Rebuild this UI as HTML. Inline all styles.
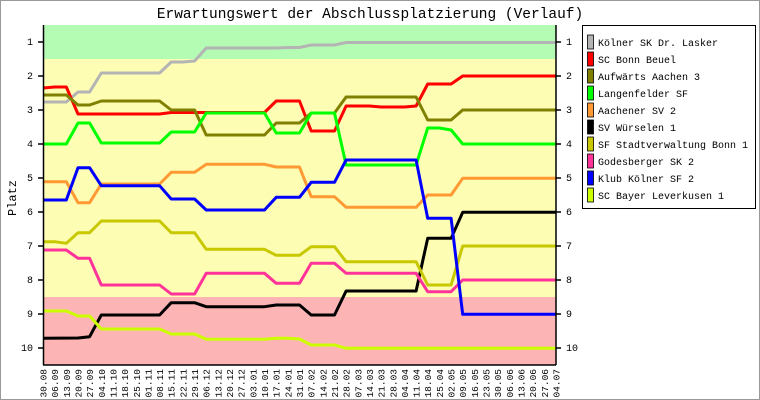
<!DOCTYPE html>
<html><head><meta charset="utf-8"><style>
html,body{margin:0;padding:0;background:#fff}
svg{display:block}
text{font-family:"Liberation Mono","DejaVu Sans Mono",monospace;fill:#000}
</style></head><body>
<svg width="760" height="400" viewBox="0 0 760 400" xmlns="http://www.w3.org/2000/svg">
<rect x="0.5" y="0.5" width="759" height="399" fill="#fff" stroke="#999" stroke-width="1"/>
<text x="370" y="18" font-size="14.5" text-anchor="middle">Erwartungswert der Abschlussplatzierung (Verlauf)</text>
<rect x="43" y="25" width="513" height="34" fill="#b4fcb4"/>
<rect x="43" y="59" width="513" height="238" fill="#fdfdb4"/>
<rect x="43" y="297" width="513" height="68" fill="#fdb4b4"/>
<g fill="none" stroke-width="3" stroke-linejoin="round">
<polyline stroke="#b4b4b4" points="43,102 66.3,102 78,92 89.6,92 101.3,73 159.6,73 171.2,62 182.9,62 194.6,61 206.2,48 276.2,48 287.8,47.5 299.5,47.5 311.2,45 334.5,45 346.1,42.5 556,42.5"/>
<polyline stroke="#ff0000" points="43,88 54.7,87 66.3,87 78,114 159.6,114 171.2,112.5 264.5,112.5 276.2,101 299.5,101 311.2,131 334.5,131 346.1,106 369.5,106 381.1,107 404.4,107 416.1,106 427.7,84 451.1,84 462.7,76 556,76"/>
<polyline stroke="#808000" points="43,95 66.3,95 78,105 89.6,105 101.3,101 159.6,101 171.2,110 194.6,110 206.2,135 264.5,135 276.2,123 299.5,123 311.2,113 334.5,113 346.1,97 416.1,97 427.7,120 451.1,120 462.7,110 556,110"/>
<polyline stroke="#00ff00" points="43,144 66.3,144 78,123 89.6,123 101.3,143 159.6,143 171.2,132 194.6,132 206.2,113 264.5,113 276.2,133 299.5,133 311.2,113 334.5,113 346.1,165 416.1,165 427.7,128 439.4,128 451.1,130 462.7,144 556,144"/>
<polyline stroke="#ff9933" points="43,181.7 66.3,181.7 78,202.7 89.6,202.7 101.3,184 159.6,184 171.2,172.3 194.6,172.3 206.2,164.3 264.5,164.3 276.2,167 299.5,167 311.2,196.7 334.5,196.7 346.1,207.3 416.1,207.3 427.7,195 451.1,195 462.7,178.3 556,178.3"/>
<polyline stroke="#000000" points="43,338.3 78,338 89.6,336.7 101.3,315 159.6,315 171.2,302.7 194.6,302.7 206.2,306.7 264.5,306.7 276.2,305 299.5,305 311.2,315 334.5,315 346.1,291 416.1,291 427.7,238.3 451.1,238.3 462.7,212.3 556,212.3"/>
<polyline stroke="#c8c800" points="43,241.7 54.7,241.7 66.3,243.3 78,232.7 89.6,232.7 101.3,221 159.6,221 171.2,232.7 194.6,232.7 206.2,249.3 264.5,249.3 276.2,255.3 299.5,255.3 311.2,246.7 334.5,246.7 346.1,261.7 416.1,261.7 427.7,285 451.1,285 462.7,246 556,246"/>
<polyline stroke="#ff3399" points="43,250 66.3,250 78,258.3 89.6,258.3 101.3,285 159.6,285 171.2,294 194.6,294 206.2,273.3 264.5,273.3 276.2,283.3 299.5,283.3 311.2,263.3 334.5,263.3 346.1,273.3 416.1,273.3 427.7,291.7 451.1,291.7 462.7,280 556,280"/>
<polyline stroke="#0000ff" points="43,200 66.3,200 78,167.7 89.6,167.7 101.3,185.7 159.6,185.7 171.2,199 194.6,199 206.2,210 264.5,210 276.2,197.3 299.5,197.3 311.2,182.3 334.5,182.3 346.1,160 416.1,160 427.7,218.3 451.1,218.3 462.7,314.3 556,314.3"/>
<polyline stroke="#ccff00" points="43,311 66.3,311 78,316 89.6,316 101.3,329 159.6,329 171.2,334 194.6,334 206.2,339.3 264.5,339.3 276.2,338.3 287.8,338.3 299.5,339 311.2,345 334.5,345 346.1,348.3 556,348.3"/>
</g>
<g stroke="#000" stroke-width="1.5" fill="none">
<line x1="43.5" y1="25" x2="43.5" y2="365"/><line x1="556" y1="25" x2="556" y2="365"/><line x1="43" y1="365" x2="556" y2="365"/>
<path d="M38 42H43M38 76H43M38 110H43M38 144H43M38 178H43M38 212H43M38 246H43M38 280H43M38 314H43M38 348H43"/>
<path d="M556 42H561M556 76H561M556 110H561M556 144H561M556 178H561M556 212H561M556 246H561M556 280H561M556 314H561M556 348H561"/>
</g>
<g font-size="10" text-anchor="end">
<text x="33" y="45">1</text><text x="33" y="79">2</text><text x="33" y="113">3</text><text x="33" y="147">4</text><text x="33" y="181">5</text><text x="33" y="215">6</text><text x="33" y="249">7</text><text x="33" y="283">8</text><text x="33" y="317">9</text><text x="33" y="351">10</text>
</g>
<g font-size="10">
<text x="566" y="45">1</text><text x="566" y="79">2</text><text x="566" y="113">3</text><text x="566" y="147">4</text><text x="566" y="181">5</text><text x="566" y="215">6</text><text x="566" y="249">7</text><text x="566" y="283">8</text><text x="566" y="317">9</text><text x="566" y="351">10</text>
</g>
<text transform="translate(16,198) rotate(-90)" font-size="12" text-anchor="middle">Platz</text>
<g font-size="9.5" text-anchor="end">
<text transform="translate(46.5,369) rotate(-90)">30.08</text>
<text transform="translate(58.2,369) rotate(-90)">06.09</text>
<text transform="translate(69.8,369) rotate(-90)">13.09</text>
<text transform="translate(81.5,369) rotate(-90)">20.09</text>
<text transform="translate(93.1,369) rotate(-90)">27.09</text>
<text transform="translate(104.8,369) rotate(-90)">04.10</text>
<text transform="translate(116.5,369) rotate(-90)">11.10</text>
<text transform="translate(128.1,369) rotate(-90)">18.10</text>
<text transform="translate(139.8,369) rotate(-90)">25.10</text>
<text transform="translate(151.4,369) rotate(-90)">01.11</text>
<text transform="translate(163.1,369) rotate(-90)">08.11</text>
<text transform="translate(174.7,369) rotate(-90)">15.11</text>
<text transform="translate(186.4,369) rotate(-90)">22.11</text>
<text transform="translate(198.1,369) rotate(-90)">29.11</text>
<text transform="translate(209.7,369) rotate(-90)">06.12</text>
<text transform="translate(221.4,369) rotate(-90)">13.12</text>
<text transform="translate(233,369) rotate(-90)">20.12</text>
<text transform="translate(244.7,369) rotate(-90)">27.12</text>
<text transform="translate(256.4,369) rotate(-90)">03.01</text>
<text transform="translate(268,369) rotate(-90)">10.01</text>
<text transform="translate(279.7,369) rotate(-90)">17.01</text>
<text transform="translate(291.3,369) rotate(-90)">24.01</text>
<text transform="translate(303,369) rotate(-90)">31.01</text>
<text transform="translate(314.7,369) rotate(-90)">07.02</text>
<text transform="translate(326.3,369) rotate(-90)">14.02</text>
<text transform="translate(338,369) rotate(-90)">21.02</text>
<text transform="translate(349.6,369) rotate(-90)">28.02</text>
<text transform="translate(361.3,369) rotate(-90)">07.03</text>
<text transform="translate(373,369) rotate(-90)">14.03</text>
<text transform="translate(384.6,369) rotate(-90)">21.03</text>
<text transform="translate(396.3,369) rotate(-90)">28.03</text>
<text transform="translate(407.9,369) rotate(-90)">04.04</text>
<text transform="translate(419.6,369) rotate(-90)">11.04</text>
<text transform="translate(431.2,369) rotate(-90)">18.04</text>
<text transform="translate(442.9,369) rotate(-90)">25.04</text>
<text transform="translate(454.6,369) rotate(-90)">02.05</text>
<text transform="translate(466.2,369) rotate(-90)">09.05</text>
<text transform="translate(477.9,369) rotate(-90)">16.05</text>
<text transform="translate(489.5,369) rotate(-90)">23.05</text>
<text transform="translate(501.2,369) rotate(-90)">30.05</text>
<text transform="translate(512.9,369) rotate(-90)">06.06</text>
<text transform="translate(524.5,369) rotate(-90)">13.06</text>
<text transform="translate(536.2,369) rotate(-90)">20.06</text>
<text transform="translate(547.8,369) rotate(-90)">27.06</text>
<text transform="translate(559.5,369) rotate(-90)">04.07</text>
</g>
<rect x="582.5" y="25.5" width="173" height="183" fill="#fff" stroke="#000" stroke-width="1"/>
<g stroke="#000" stroke-width="0.8">
<rect x="587.5" y="35" width="6" height="14" fill="#b4b4b4"/>
<rect x="587.5" y="52" width="6" height="14" fill="#ff0000"/>
<rect x="587.5" y="69" width="6" height="14" fill="#808000"/>
<rect x="587.5" y="86" width="6" height="14" fill="#00ff00"/>
<rect x="587.5" y="103" width="6" height="14" fill="#ff9933"/>
<rect x="587.5" y="120" width="6" height="14" fill="#000000"/>
<rect x="587.5" y="137" width="6" height="14" fill="#c8c800"/>
<rect x="587.5" y="154" width="6" height="14" fill="#ff3399"/>
<rect x="587.5" y="171" width="6" height="14" fill="#0000ff"/>
<rect x="587.5" y="188" width="6" height="14" fill="#ccff00"/>
</g>
<g font-size="10">
<text x="598" y="46">Kölner SK Dr. Lasker</text>
<text x="598" y="63">SC Bonn Beuel</text>
<text x="598" y="80">Aufwärts Aachen 3</text>
<text x="598" y="97">Langenfelder SF</text>
<text x="598" y="114">Aachener SV 2</text>
<text x="598" y="131">SV Würselen 1</text>
<text x="598" y="148">SF Stadtverwaltung Bonn 1</text>
<text x="598" y="165">Godesberger SK 2</text>
<text x="598" y="182">Klub Kölner SF 2</text>
<text x="598" y="199">SC Bayer Leverkusen 1</text>
</g>
</svg>
</body></html>
